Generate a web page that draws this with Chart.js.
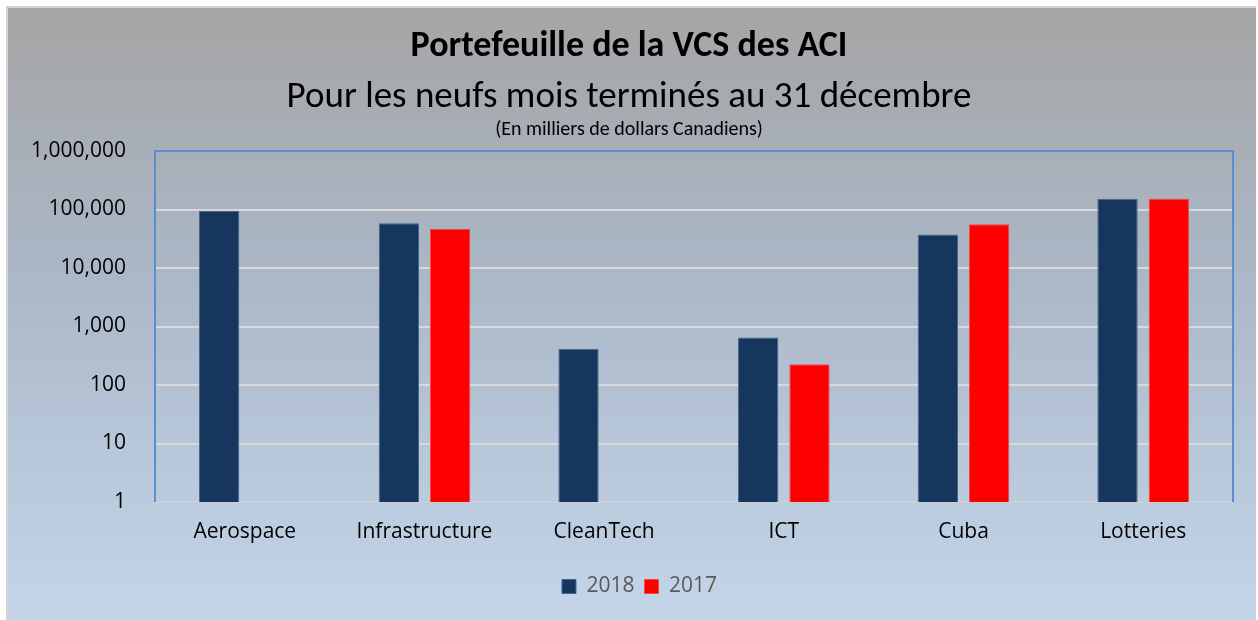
<!DOCTYPE html>
<html>
<head>
<meta charset="utf-8">
<script src="https://cdn.jsdelivr.net/npm/chart.js@4/dist/chart.umd.min.js"></script>
<style>
  html, body { margin: 0; padding: 0; background: #fff; }
  #wrap { width: 1258px; height: 620px; }
</style>
</head>
<body>
<div id="wrap"><canvas id="portfolio"></canvas></div>
<script>
const sectors = ['Aerospace', 'Infrastructure', 'CleanTech', 'ICT', 'Cuba', 'Lotteries']
const values2018 = [95000, 58300, 415, 648, 37300, 152000]
const values2017 = [null, 46700, null, 226, 56000, 152000]
const yTicks = [1, 10, 100, 1000, 10000, 100000, 1000000]
const titleLines = [
  'Portefeuille de la VCS des ACI',
  'Pour les neufs mois terminés au 31 décembre',
  '(En milliers de dollars Canadiens)'
]

const narrow = 'Carlito, Calibri, Lato, "Open Sans", sans-serif'
const plain = '"Open Sans", "Noto Sans", sans-serif'

// background panel + headings
const decor = {
  id: 'decor',
  afterLayout (chart) {
    // legend sits a bit right of the plot centre in the original
    chart.legend.left += 20
    chart.legend.right += 20
  },
  beforeDraw (chart) {
    const { ctx, width, height } = chart
    ctx.save()
    ctx.fillStyle = '#ffffff'
    ctx.fillRect(0, 0, width, height)
    ctx.fillStyle = '#d4d4d4'
    ctx.fillRect(6, 6, width - 8, height - 6)
    const g = ctx.createLinearGradient(0, 8, 0, height)
    g.addColorStop(0, '#a5a5a5')
    g.addColorStop(0.45, '#abb8c8')
    g.addColorStop(1, '#c4d5ea')
    ctx.fillStyle = g
    ctx.fillRect(8, 8, width - 10, height - 8)
    ctx.restore()
  },
  beforeDatasetsDraw (chart) {
    const { ctx, chartArea: a } = chart
    ctx.save()
    ctx.strokeStyle = '#5b8ed0'
    ctx.lineWidth = 2
    ctx.beginPath()
    ctx.moveTo(a.left, a.bottom)
    ctx.lineTo(a.left, a.top)
    ctx.lineTo(a.right, a.top)
    ctx.lineTo(a.right, a.bottom)
    ctx.stroke()
    ctx.strokeStyle = '#c8cfd8'
    ctx.beginPath()
    ctx.moveTo(a.left + 1, a.bottom)
    ctx.lineTo(a.right - 1, a.bottom)
    ctx.stroke()
    ctx.restore()
  },
  afterDraw (chart) {
    const { ctx, width } = chart
    const cx = width / 2
    ctx.save()
    ctx.fillStyle = '#000000'
    ctx.textAlign = 'center'
    ctx.textBaseline = 'middle'
    ctx.font = 'bold 36px ' + narrow
    ctx.fillText(titleLines[0], cx, 47)
    ctx.font = '37px ' + narrow
    ctx.fillText(titleLines[1], cx, 98)
    ctx.font = '20px ' + narrow
    ctx.fillText(titleLines[2], cx, 130)
    ctx.restore()
  }
}

new Chart(document.getElementById('portfolio'), {
  type: 'bar',
  data: {
    labels: sectors,
    datasets: [{
      label: '2018',
      data: values2018,
      backgroundColor: '#17365d',
      borderColor: '#46648c',
      borderWidth: 1,
      categoryPercentage: 0.571,
      barPercentage: 0.786
    }, {
      label: '2017',
      data: values2017,
      backgroundColor: '#ff0000',
      borderColor: '#f04848',
      borderWidth: 1,
      categoryPercentage: 0.571,
      barPercentage: 0.786
    }]
  },
  options: {
    responsive: true,
    maintainAspectRatio: false,
    animation: false,
    layout: { padding: { left: 6, right: 25, top: 151, bottom: 13 } },
    scales: {
      x: {
        grid: { display: false, drawTicks: false },
        border: { display: false },
        ticks: { padding: 17, color: '#000', font: { family: plain, size: 21 } },
        afterFit: (s) => { s.height = 64 }
      },
      y: {
        type: 'logarithmic',
        min: 1,
        max: 1000000,
        afterBuildTicks: (s) => { s.ticks = yTicks.map(v => ({ value: v })) },
        afterFit: (s) => { s.width = 149 },
        grid: { color: '#d9d9d9', lineWidth: 2, drawTicks: false },
        border: { display: false },
        ticks: {
          padding: 29,
          color: '#000',
          font: { family: plain, size: 21 },
          callback: (v) => Number(v).toLocaleString('en-US')
        }
      }
    },
    plugins: {
      legend: {
        position: 'bottom',
        labels: {
          boxWidth: 14,
          boxHeight: 14,
          padding: 10,
          color: '#595959',
          font: { family: plain, size: 21 }
        }
      },
      title: { display: false },
      tooltip: { enabled: false }
    }
  },
  plugins: [decor]
})
</script>
</body>
</html>
